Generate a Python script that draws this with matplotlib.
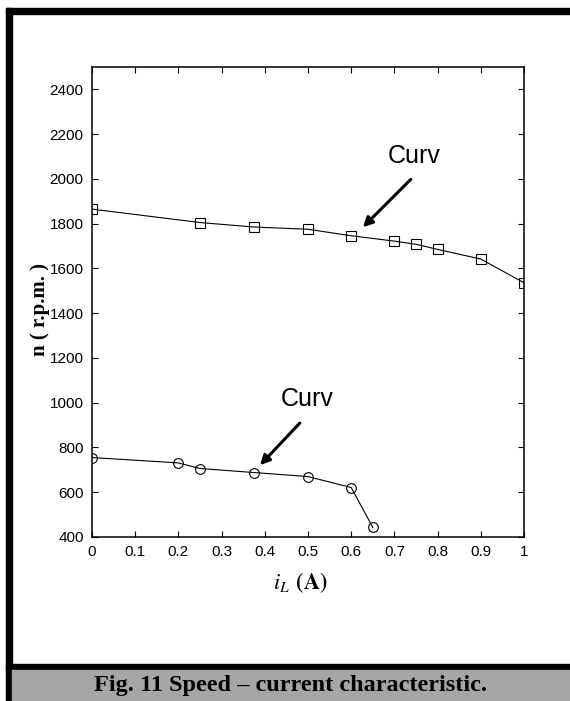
import matplotlib
matplotlib.use("Agg")
import matplotlib.pyplot as plt
from matplotlib.patches import Rectangle

# upper curve (squares)
i_upper = [0, 0.25, 0.375, 0.5, 0.6, 0.7, 0.75, 0.8, 0.9, 1.0]
n_upper = [1865, 1805, 1785, 1775, 1746, 1722, 1708, 1685, 1642, 1536]

# lower curve (circles)
i_lower = [0, 0.2, 0.25, 0.375, 0.5, 0.6, 0.65]
n_lower = [755, 731, 706, 688, 670, 621, 443]

x_ticks = [0, 0.1, 0.2, 0.3, 0.4, 0.5, 0.6, 0.7, 0.8, 0.9, 1]
x_ticklabels = ["0", "0.1", "0.2", "0.3", "0.4", "0.5", "0.6", "0.7", "0.8", "0.9", "1"]
y_ticks = [400, 600, 800, 1000, 1200, 1400, 1600, 1800, 2000, 2200, 2400]

plt.rcParams["mathtext.fontset"] = "stix"
W, H = 570, 701
fig = plt.figure(figsize=(W / 100, H / 100), dpi=100)

def px(x, y):
    return x / W, 1 - y / H

# frame and caption band
fig.patches.append(Rectangle(px(6, 14), (W - 6) / W, 6 / H, transform=fig.transFigure,
                             color="black", zorder=0))
fig.patches.append(Rectangle(px(6, 701), 6 / W, (701 - 8) / H, transform=fig.transFigure,
                             color="black", zorder=0))
fig.patches.append(Rectangle(px(6, 670), (W - 6) / W, 6 / H, transform=fig.transFigure,
                             color="black", zorder=0))
fig.patches.append(Rectangle(px(12, 701), (W - 12) / W, 31 / H, transform=fig.transFigure,
                             color="#a6a6a6", zorder=0))

l, b = px(92, 537)
r, t = px(524, 67)
ax = fig.add_axes([l, b, r - l, t - b])

ax.plot(i_upper, n_upper, color="black", lw=0.8, marker="s", ms=6.5,
        mfc="none", mec="black", mew=0.8)
ax.plot(i_lower, n_lower, color="black", lw=0.8, marker="o", ms=7,
        mfc="none", mec="black", mew=0.8)

ax.set_xlim(0, 1)
ax.set_ylim(400, 2500)
ax.set_xticks(x_ticks)
ax.set_xticklabels(x_ticklabels)
ax.set_yticks(y_ticks)
tick_font = ["Liberation Sans", "DejaVu Sans"]
for lab in ax.get_xticklabels() + ax.get_yticklabels():
    lab.set_family(tick_font)
    lab.set_fontsize(11)
ax.tick_params(direction="in", top=True, right=True, length=4, width=0.8, pad=6)
for s in ax.spines.values():
    s.set_linewidth(1.1)

arrow = dict(arrowstyle="-|>", lw=2.2, color="black", mutation_scale=14,
             shrinkA=0, shrinkB=0)
ax.annotate("", xy=(0.627, 1784), xytext=(0.738, 1998), arrowprops=arrow)
ax.text(0.745, 2101, "Curv", ha="center", va="center", fontsize=18, family=tick_font)
ax.annotate("", xy=(0.389, 721), xytext=(0.481, 909), arrowprops=arrow)
ax.text(0.498, 1016, "Curv", ha="center", va="center", fontsize=18, family=tick_font)

x, y = px(40, 309)
fig.text(x, y, "n ( r.p.m. )", rotation=90, ha="center", va="center",
         fontsize=15, fontweight="bold", family="Liberation Serif")
x, y = px(300, 583)
fig.text(x, y, r"$\mathit{i}_{L}$ $\mathbf{(A)}$", ha="center", va="center", fontsize=16)

x, y = px(290, 686)
fig.text(x, y, "Fig. 11 Speed \u2013 current characteristic.", ha="center", va="center",
         fontsize=17.5, fontweight="bold", family="Liberation Serif")

fig.savefig("out.png", dpi=100)
